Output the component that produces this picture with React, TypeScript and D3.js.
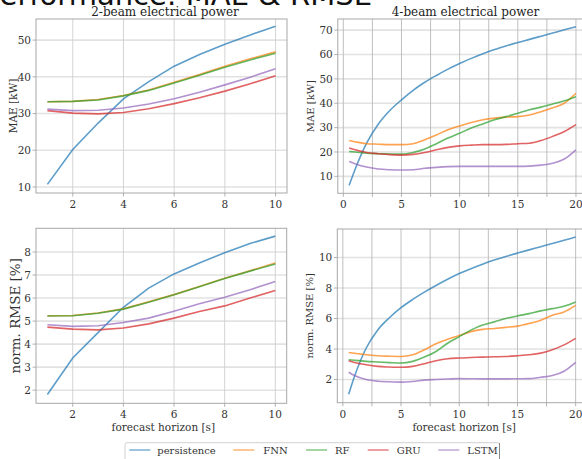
import React from 'react';
import * as d3 from 'd3';

const models = ['persistence', 'FNN', 'RF', 'GRU', 'LSTM'];
const colors = ['#1f77b4', '#ff7f0e', '#2ca02c', '#d62728', '#9467bd'];

const horizon2 = [1, 2, 3, 4, 5, 6, 7, 8, 9, 10];
const mae2Persistence = [10.7, 20.2, 27.4, 34.0, 38.7, 42.9, 46.1, 48.9, 51.4, 53.8];
const mae2FNN = [33.2, 33.3, 33.8, 34.9, 36.4, 38.5, 40.6, 42.9, 44.9, 46.8];
const mae2RF = [33.2, 33.3, 33.7, 34.8, 36.3, 38.3, 40.4, 42.6, 44.6, 46.4];
const mae2GRU = [30.8, 30.1, 29.9, 30.3, 31.3, 32.7, 34.3, 36.1, 38.1, 40.3];
const mae2LSTM = [31.2, 30.8, 30.9, 31.5, 32.6, 34.0, 35.8, 37.8, 39.9, 42.2];

const rmse2Persistence = [1.81, 3.4, 4.5, 5.6, 6.43, 7.05, 7.52, 7.97, 8.37, 8.69];
const rmse2FNN = [5.23, 5.24, 5.35, 5.53, 5.84, 6.15, 6.5, 6.86, 7.19, 7.52];
const rmse2RF = [5.22, 5.23, 5.34, 5.52, 5.82, 6.14, 6.49, 6.85, 7.17, 7.48];
const rmse2GRU = [4.74, 4.65, 4.62, 4.7, 4.88, 5.13, 5.42, 5.66, 6.0, 6.33];
const rmse2LSTM = [4.84, 4.77, 4.8, 4.94, 5.13, 5.43, 5.75, 6.04, 6.36, 6.72];

const horizon4 = [0.5, 1, 2, 3, 4, 5, 6, 7, 8, 9, 10, 11, 12, 13, 14, 15, 16, 17, 18, 19, 20];
const mae4Persistence = [6.3, 12.7, 23.6, 31.4, 37, 41.4, 45.3, 48.6, 51.4, 54, 56.3, 58.4, 60.3, 62, 63.5, 64.9, 66.2, 67.5, 68.8, 70.1, 71.4];
const mae4FNN = [24.7, 24.2, 23.4, 23.2, 23.0, 23.0, 23.4, 25, 27, 29.1, 30.7, 32.1, 33.2, 33.9, 34.3, 34.5, 35.2, 36.5, 38.1, 40, 44.1];
const mae4RF = [20.2, 20, 19.5, 19.3, 19.2, 19.1, 19.8, 21.2, 23.4, 25.7, 27.7, 29.8, 31.5, 33.2, 34.5, 35.9, 37.3, 38.4, 39.7, 41, 42.7];
const mae4GRU = [21.6, 20.9, 19.8, 19.3, 18.9, 18.7, 19, 19.8, 20.9, 21.9, 22.5, 22.8, 23, 23, 23.1, 23.4, 23.6, 24.7, 26.4, 28.4, 31.2];
const mae4LSTM = [16.1, 15.2, 13.8, 13, 12.7, 12.6, 12.7, 13.3, 13.7, 14, 14.1, 14.1, 14.1, 14.1, 14.1, 14.1, 14.2, 14.6, 15.4, 17.1, 20.9];

const rmse4Persistence = [1.03, 2.2, 4.05, 5.25, 6.05, 6.71, 7.25, 7.73, 8.17, 8.58, 8.95, 9.27, 9.56, 9.83, 10.07, 10.29, 10.5, 10.71, 10.92, 11.13, 11.34];
const rmse4FNN = [3.77, 3.72, 3.62, 3.56, 3.53, 3.51, 3.62, 3.95, 4.34, 4.64, 4.88, 5.14, 5.29, 5.35, 5.42, 5.5, 5.67, 5.89, 6.22, 6.43, 6.86];
const rmse4RF = [3.3, 3.26, 3.19, 3.15, 3.11, 3.08, 3.19, 3.47, 3.84, 4.38, 4.81, 5.24, 5.57, 5.78, 6.0, 6.17, 6.32, 6.5, 6.65, 6.8, 7.08];
const rmse4GRU = [3.23, 3.12, 2.97, 2.86, 2.82, 2.8, 2.86, 3.04, 3.23, 3.36, 3.41, 3.44, 3.47, 3.49, 3.51, 3.56, 3.62, 3.73, 3.95, 4.27, 4.7];
const rmse4LSTM = [2.48, 2.26, 2.0, 1.89, 1.85, 1.83, 1.87, 1.96, 2.0, 2.03, 2.06, 2.05, 2.04, 2.04, 2.04, 2.05, 2.06, 2.15, 2.26, 2.54, 3.12];

const xTicks2 = [2, 4, 6, 8, 10];
const xTicks4 = [0, 5, 10, 15, 20];
const xMinor4 = [2.5, 7.5, 12.5, 17.5];
const yTicksMae2 = [10, 20, 30, 40, 50];
const yTicksMae4 = [10, 20, 30, 40, 50, 60, 70];
const yTicksRmse2 = [2, 3, 4, 5, 6, 7, 8];
const yTicksRmse4 = [2, 4, 6, 8, 10];

const SERIF = "'DejaVu Serif', serif";

type PanelProps = {
  id: string;
  px: [number, number];
  py: [number, number];
  xDomain: [number, number];
  yDomain: [number, number];
  xs: number[];
  series: number[][];
  xTicks: number[];
  xMinor: number[];
  yTicks: number[];
  title?: string;
  titleX?: number;
  ylabel: string;
  ylabelX: number;
  ylabelSize: number;
  xlabel?: string;
  smooth: boolean;
};

function Panel(p: PanelProps) {
  const x = d3.scaleLinear().domain(p.xDomain).range(p.px);
  const y = d3.scaleLinear().domain(p.yDomain).range(p.py);
  const line = d3
    .line<number>()
    .x((_, i) => x(p.xs[i]))
    .y((d) => y(d))
    .curve(p.smooth ? d3.curveMonotoneX : d3.curveLinear);
  const [left, right] = p.px;
  const [bottom, top] = p.py;
  const vGrid = p.smooth ? '#b8b8b8' : '#cfcfcf';
  return (
    <g>
      <defs>
        <clipPath id={p.id}>
          <rect x={left} y={top} width={right - left} height={bottom - top} />
        </clipPath>
      </defs>
      {p.yTicks.map((t) => (
        <line key={'hy' + t} x1={left} x2={right} y1={y(t)} y2={y(t)} stroke="#e2e2e2" strokeWidth={1.6} />
      ))}
      {[...p.xTicks, ...p.xMinor].map((t) => (
        <line key={'gx' + t} x1={x(t)} x2={x(t)} y1={top} y2={bottom} stroke={vGrid} strokeWidth={0.9} />
      ))}
      <g clipPath={`url(#${p.id})`}>
        {p.series.map((s, i) => (
          <path key={i} d={line(s) || ''} fill="none" stroke={colors[i]} strokeOpacity={0.72} strokeWidth={1.6} />
        ))}
      </g>
      <rect x={left} y={top} width={right - left} height={bottom - top} fill="none" stroke="#a8a8a8" strokeWidth={1} />
      {[...p.xTicks, ...p.xMinor].map((t) => (
        <line key={'tx' + t} x1={x(t)} x2={x(t)} y1={bottom} y2={bottom + 3.5} stroke="#a8a8a8" strokeWidth={0.9} />
      ))}
      {p.xTicks.map((t) => (
        <text key={'lx' + t} x={x(t)} y={bottom + 15} textAnchor="middle" fontFamily={SERIF} fontSize={10.5} fill="#333">
          {t}
        </text>
      ))}
      {p.yTicks.map((t) => (
        <g key={'ly' + t}>
          <line x1={left - 3.5} x2={left} y1={y(t)} y2={y(t)} stroke="#a8a8a8" strokeWidth={0.9} />
          <text x={left - 5} y={y(t) + 3.8} textAnchor="end" fontFamily={SERIF} fontSize={10.5} fill="#333">
            {t}
          </text>
        </g>
      ))}
      {p.title && (
        <text x={p.titleX} y={15.5} textAnchor="middle" fontFamily={SERIF} fontSize={12} fill="#222">
          {p.title}
        </text>
      )}
      <text
        transform={`translate(${p.ylabelX},${(top + bottom) / 2}) rotate(-90)`}
        textAnchor="middle"
        dominantBaseline="middle"
        fontFamily={SERIF}
        fontSize={p.ylabelSize}
        fill="#333"
      >
        {p.ylabel}
      </text>
      {p.xlabel && (
        <text x={(left + right) / 2 + 2} y={bottom + 28} textAnchor="middle" fontFamily={SERIF} fontSize={10.5} fill="#333">
          {p.xlabel}
        </text>
      )}
    </g>
  );
}

const legendLineX = [129.3, 233.3, 306, 367.7, 438.3];
const legendTextX = [157.3, 263.3, 335, 396.7, 467.3];

export default function App() {
  return (
    <svg
      width={582}
      height={459}
      style={{ position: 'absolute', left: 0, top: 0, display: 'block', background: '#fff' }}
    >
      <rect width={582} height={459} fill="#fff" />
      <text x={372} y={4.5} textAnchor="end" fontFamily="'DejaVu Sans', sans-serif" fontSize={29} fill="#111">
        Performance: MAE &amp; RMSE
      </text>
      <Panel
        id="c1"
        px={[36, 287]}
        py={[193, 19]}
        xDomain={[0.55, 10.45]}
        yDomain={[8.35, 55.75]}
        xs={horizon2}
        series={[mae2Persistence, mae2FNN, mae2RF, mae2GRU, mae2LSTM]}
        xTicks={xTicks2}
        xMinor={[]}
        yTicks={yTicksMae2}
        title="2-beam electrical power"
        titleX={165}
        ylabel="MAE [kW]"
        ylabelX={13.5}
        ylabelSize={10.5}
        smooth={false}
      />
      <Panel
        id="c2"
        px={[337.8, 587.3]}
        py={[193.3, 19]}
        xDomain={[-0.475, 20.975]}
        yDomain={[3.05, 74.55]}
        xs={horizon4}
        series={[mae4Persistence, mae4FNN, mae4RF, mae4GRU, mae4LSTM]}
        xTicks={xTicks4}
        xMinor={xMinor4}
        yTicks={yTicksMae4}
        title="4-beam electrical power"
        titleX={465.5}
        ylabel="MAE [kW]"
        ylabelX={311.7}
        ylabelSize={10}
        smooth={true}
      />
      <Panel
        id="c3"
        px={[36, 286.7]}
        py={[403.3, 228.3]}
        xDomain={[0.55, 10.45]}
        yDomain={[1.43, 9.03]}
        xs={horizon2}
        series={[rmse2Persistence, rmse2FNN, rmse2RF, rmse2GRU, rmse2LSTM]}
        xTicks={xTicks2}
        xMinor={[]}
        yTicks={yTicksRmse2}
        ylabel="norm. RMSE [%]"
        ylabelX={16.5}
        ylabelSize={13.5}
        xlabel="forecast horizon [s]"
        smooth={false}
      />
      <Panel
        id="c4"
        px={[337.3, 587]}
        py={[402.7, 229]}
        xDomain={[-0.475, 20.975]}
        yDomain={[0.48, 11.87]}
        xs={horizon4}
        series={[rmse4Persistence, rmse4FNN, rmse4RF, rmse4GRU, rmse4LSTM]}
        xTicks={xTicks4}
        xMinor={xMinor4}
        yTicks={yTicksRmse4}
        ylabel="norm. RMSE [%]"
        ylabelX={310.7}
        ylabelSize={10}
        xlabel="forecast horizon [s]"
        smooth={true}
      />
      <g>
        <rect x={125} y={442.7} width={374.5} height={24} fill="#fff" stroke="#d0d0d0" strokeWidth={1} rx={2} />
        <line x1={499.5} x2={499.5} y1={443} y2={459} stroke="#888" strokeWidth={1} />
        {models.map((m, i) => (
          <g key={m}>
            <line
              x1={legendLineX[i]}
              x2={legendLineX[i] + 21}
              y1={450}
              y2={450}
              stroke={colors[i]}
              strokeOpacity={0.55}
              strokeWidth={1.6}
            />
            <text x={legendTextX[i]} y={454} fontFamily={SERIF} fontSize={10} fill="#333">
              {m}
            </text>
          </g>
        ))}
      </g>
    </svg>
  );
}
